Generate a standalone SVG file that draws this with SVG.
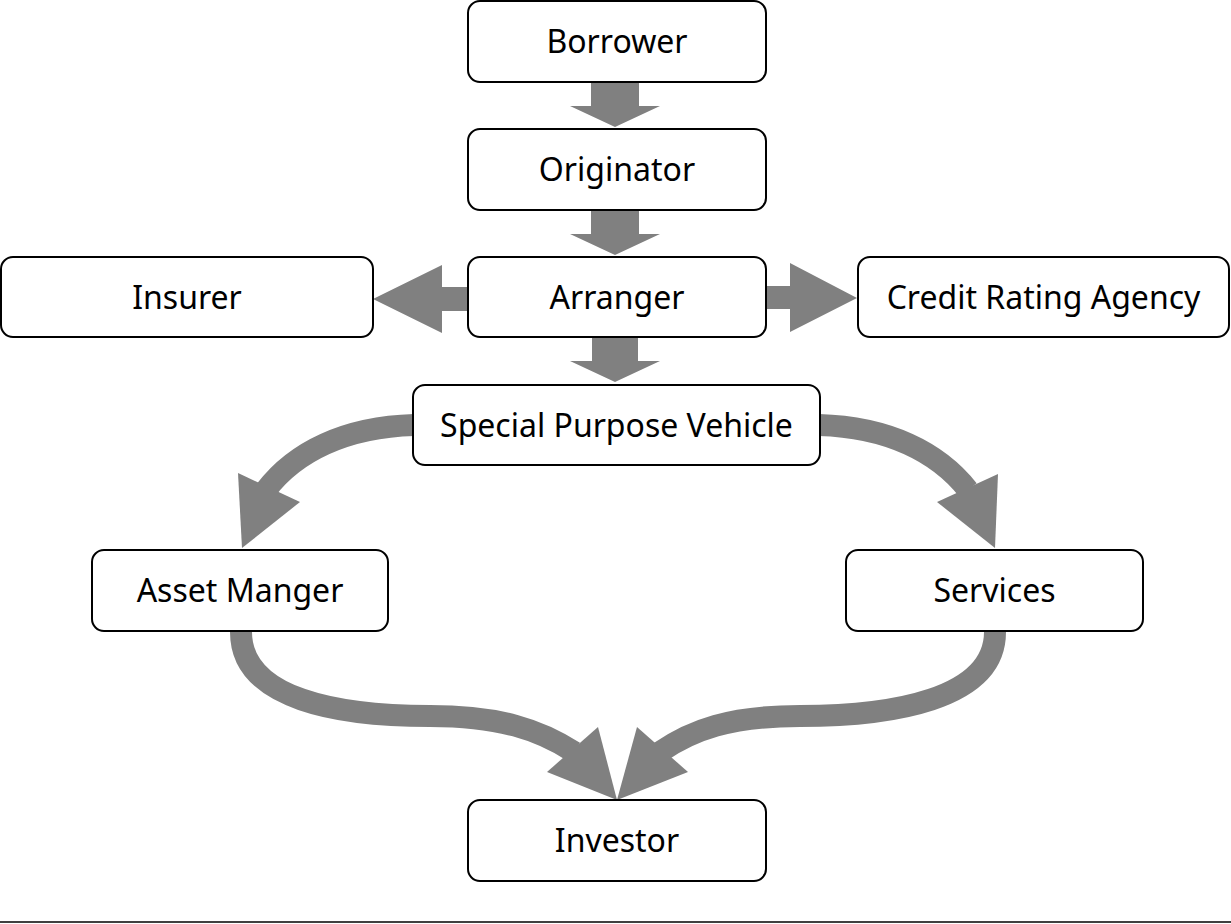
<svg xmlns="http://www.w3.org/2000/svg" width="1231" height="924" viewBox="0 0 1231 924">
<style>
.box{fill:#fff;stroke:#000;stroke-width:2}
.lbl{font-family:"Noto Sans","Open Sans",sans-serif;font-size:32px;fill:#000;text-anchor:middle}
.shaft{fill:none;stroke:#808080;stroke-width:22}
.head{fill:#808080;stroke:none}
</style>
<rect width="1231" height="924" fill="#fff"/>
<g id="connectors">
<polygon class="head" points="591,83 639,83 639,106 660,106 615,127 570,106 591,106"/>
<polygon class="head" points="591,211 639,211 639,234 660,234 615,255 570,234 591,234"/>
<polygon class="head" points="592,338 638,338 638,361 660,361 615,382 570,361 592,361"/>
<polygon class="head" points="467,287 442,287 442,265 373,299 442,333 442,311 467,311"/>
<polygon class="head" points="767,286 790,286 790,263 857,298 790,332 790,309 767,309"/>
<path class="shaft" d="M414,425 C345,427 295,452 266,490"/>
<polygon class="head" points="238,473 300,502 242,548"/>
<path class="shaft" d="M819,425 C888,427 938,452 968,490"/>
<polygon class="head" points="998,474 937,502 995,548"/>
<path class="shaft" d="M241,632 C241,700 340,716 430,716 C500,716 540,730 574,752"/>
<polygon class="head" points="547,772 598,727 617,800"/>
<path class="shaft" d="M995,632 C995,700 890,716 800,716 C730,716 692,730 660,752"/>
<polygon class="head" points="637,727 688,772 617,800"/>
</g>
<g id="borrower"><rect class="box" x="468" y="1" width="298" height="81" rx="12"/><text class="lbl" x="617" y="53">Borrower</text></g>
<g id="originator"><rect class="box" x="468" y="129" width="298" height="81" rx="12"/><text class="lbl" x="617" y="181">Originator</text></g>
<g id="arranger"><rect class="box" x="468" y="257" width="298" height="80" rx="12"/><text class="lbl" x="617" y="308.5">Arranger</text></g>
<g id="insurer"><rect class="box" x="1" y="257" width="372" height="80" rx="12"/><text class="lbl" x="187" y="308.5">Insurer</text></g>
<g id="cra"><rect class="box" x="858" y="257" width="371" height="80" rx="12"/><text class="lbl" x="1043.5" y="308.5">Credit Rating Agency</text></g>
<g id="spv"><rect class="box" x="413" y="385" width="407" height="80" rx="12"/><text class="lbl" x="616.5" y="436.5">Special Purpose Vehicle</text></g>
<g id="asset"><rect class="box" x="92" y="550" width="296" height="81" rx="12"/><text class="lbl" x="240" y="602">Asset Manger</text></g>
<g id="services"><rect class="box" x="846" y="550" width="297" height="81" rx="12"/><text class="lbl" x="994.5" y="602">Services</text></g>
<g id="investor"><rect class="box" x="468" y="800" width="298" height="81" rx="12"/><text class="lbl" x="617" y="852">Investor</text></g>
<line x1="0" y1="922" x2="1231" y2="922" stroke="#000" stroke-width="1.5"/>
</svg>
